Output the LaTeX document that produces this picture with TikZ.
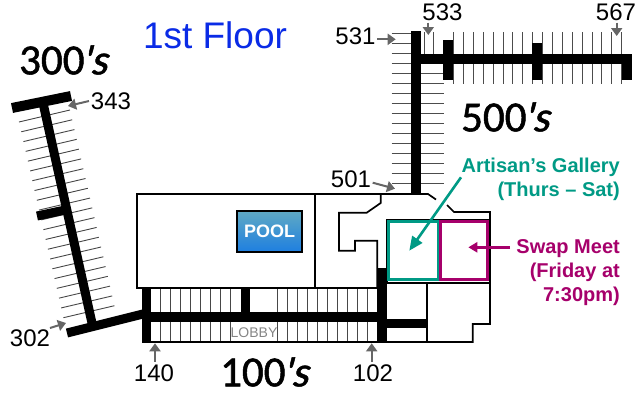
\documentclass[tikz,border=0pt]{standalone}
\usepackage{fontspec}
\setmainfont{Liberation Sans}
\newfontfamily\handfont[FakeBold=1.2]{Carlito}
\newfontfamily\handslant[FakeBold=1.2,FakeSlant=0.25]{Carlito}
\usetikzlibrary{arrows.meta}
\definecolor{tealc}{HTML}{009A85}
\definecolor{magc}{HTML}{A6006B}
\definecolor{greyc}{HTML}{666666}
\definecolor{bluet}{HTML}{0A2BE6}
\definecolor{pooltop}{HTML}{5FA9C4}
\definecolor{poolbot}{HTML}{1E7FE0}
\newcommand{\wingname}[1]{#1\kern-4pt{\handslant\textquotesingle s}}
\tikzset{
  wall/.style={line width=1.7pt,draw=black,line join=miter},
  corridor/.style={fill=black,draw=none},
  barline/.style={line width=#1,draw=black},
  unitline/.style={line width=0.9pt,draw=greyc!70!black},
  numlabel/.style={font=\fontsize{24}{24}\selectfont,inner sep=0pt,text=black},
  hand/.style={font=\handfont\fontsize{43}{43}\selectfont,inner sep=0pt,text=black},
  pointer/.style={line width=2pt,draw=greyc,-{Triangle[length=8pt,width=11pt]}},
  note/.style={font=\bfseries\fontsize{20}{24}\selectfont,inner sep=0pt,align=right,anchor=east}
}
\begin{document}
\begin{tikzpicture}[x=1pt,y=-1pt]
\useasboundingbox (0,0) rectangle (640,400);
% ===== 300s wing
\foreach \i in {0,...,20}{
  \pgfmathsetmacro{\cx}{44.5+\i*2.2225}
  \pgfmathsetmacro{\cy}{116+\i*9.785}
  \draw[unitline] (\cx-25.5,\cy+6) -- (\cx+25.5,\cy-6);
}
\draw[barline=9pt] (43,103) -- (92,323);
\draw[barline=10pt] (12,108) -- (71,96);
\draw[barline=9pt] (37,216) -- (65,210);
\draw[barline=9pt] (67,333) -- (147,313);
% ===== 100s units
\foreach \x in {160,170,...,230}{
  \draw[unitline] (\x,288) -- (\x,342);
}
\foreach \x in {277.7,287.7,...,377.7}{
  \draw[unitline] (\x,288) -- (\x,342);
}
% ===== main outline
\draw[wall] (137,194) rectangle (315,288);
\draw[wall] (315,194) -- (428,194) -- (436,199.5);
\draw[wall] (447,205) -- (454,212) -- (490,212) -- (490,324) -- (472.7,324) -- (472.7,342) -- (142,342);
\draw[wall] (380.7,194) -- (380.7,203) -- (366.7,212.7) -- (339,212.7) -- (339,250.7) -- (355,250.7) -- (355,240.7) -- (377.3,240.7) -- (377.3,288) -- (315,288);
\draw[wall] (386.7,283) -- (386.7,220) -- (490,220);
\draw[wall] (386.7,282.7) -- (490,282.7);
\draw[wall] (426.7,282.7) -- (426.7,342);
% ===== 100s corridors
\fill[corridor] (141.7,288) rectangle (150.7,342);
\fill[corridor] (240.7,288) rectangle (250,312);
\fill[corridor] (142,311.7) rectangle (385,321.7);
\fill[corridor] (377.3,268) rectangle (386.7,342);
\fill[corridor] (386,319) rectangle (426.7,327.7);
% ===== 500s wing
\foreach \i in {0,...,15}{
  \pgfmathsetmacro{\yy}{33.3+\i*10}
  \draw[unitline,draw=black!70] (391.7,\yy) -- (411,\yy);
}
\foreach \i in {4,...,15}{
  \pgfmathsetmacro{\yy}{33.3+\i*10}
  \draw[unitline,draw=black!70] (420.7,\yy) -- (444,\yy);
}
\foreach \i in {0,1}{
  \pgfmathsetmacro{\xx}{424+\i*9.88}
  \draw[unitline,draw=black!70] (\xx,32) -- (\xx,56);
}
\foreach \i in {3,...,20}{
  \pgfmathsetmacro{\xx}{424+\i*9.88}
  \draw[unitline,draw=black!70] (\xx,32) -- (\xx,84.3);
}
\fill[corridor] (411,30.7) rectangle (420.7,193);
\fill[corridor] (411,54.3) rectangle (631.7,64);
\fill[corridor] (443.3,40) rectangle (453.3,80);
\fill[corridor] (531.7,43) rectangle (541.7,80);
\fill[corridor] (621.7,54.3) rectangle (631.7,80);
% ===== pool
\node[draw=black,line width=2pt,minimum width=65.6pt,minimum height=41pt,inner sep=0pt,
  top color=pooltop,bottom color=poolbot,
  text=white,font=\bfseries\fontsize{18}{18}\selectfont] (pool) at (269.5,231.5) {POOL};
\node[font=\fontsize{14}{14}\selectfont,text=greyc!80,inner sep=0pt] (lobby) at (254,332.3) {LOBBY};
% ===== highlighted rooms
\node[draw=tealc,line width=3pt,minimum width=50pt,minimum height=58.3pt,inner sep=0pt] (gallery) at (413.3,250.8) {};
\node[draw=magc,line width=3pt,minimum width=47pt,minimum height=58.3pt,inner sep=0pt] (swap) at (464.2,250.8) {};
% ===== labels
\node[font=\fontsize{37}{37}\selectfont,text=bluet,inner sep=0pt] (title) at (215,35) {1st Floor};
\node[hand] (w300) at (63,60) {\wingname{300}};
\node[hand] (w100) at (264,372) {\wingname{100}};
\node[hand] (w500) at (505,117) {\wingname{500}};
\node[numlabel] (n343) at (111,101) {343};
\node[numlabel] (n302) at (30,338) {302};
\node[numlabel] (n140) at (154,373) {140};
\node[numlabel] (n102) at (373,373) {102};
\node[numlabel] (n501) at (351,179) {501};
\node[numlabel] (n531) at (355.5,36) {531};
\node[numlabel] (n533) at (442.5,12) {533};
\node[numlabel] (n567) at (616,12) {567};
\node[note,text=tealc] (art) at (620,179.5) {Artisan’s Gallery\\(Thurs – Sat)};
\node[note,text=magc] (swm) at (620,272.5) {Swap Meet\\(Friday at\\7:30pm)};
% ===== pointers
\coordinate (e343) at (68,106);
\coordinate (e302) at (66,323);
\coordinate (e140) at (155,343.3);
\coordinate (e102) at (371.7,343.3);
\coordinate (e501) at (395,188.7);
\coordinate (e531) at (395.7,39.3);
\coordinate (e533) at (428.3,35);
\coordinate (e567) at (616.7,36);
\coordinate (s343) at (89,101);
\coordinate (s302) at (50,328);
\coordinate (s140) at (155,361.7);
\coordinate (s102) at (371.7,361.7);
\coordinate (s501) at (372.7,182.7);
\coordinate (s531) at (377,39.3);
\coordinate (s533) at (428.3,22.7);
\coordinate (s567) at (616.7,22.7);
\foreach \k in {343,302,140,102,501,531,533,567}{
  \draw[pointer] (s\k) -- (e\k);
}
\coordinate (sgal) at (461,177.3);
\coordinate (egal) at (409.3,250.7);
\coordinate (sswp) at (510,247.3);
\coordinate (eswp) at (468.3,247.3);
\draw[line width=2.6pt,draw=tealc,-{Triangle[length=14pt,width=12pt]}] (sgal) -- (egal);
\draw[line width=2.4pt,draw=magc,-{Triangle[length=9pt,width=10pt]}] (sswp) -- (eswp);
\end{tikzpicture}
\end{document}
